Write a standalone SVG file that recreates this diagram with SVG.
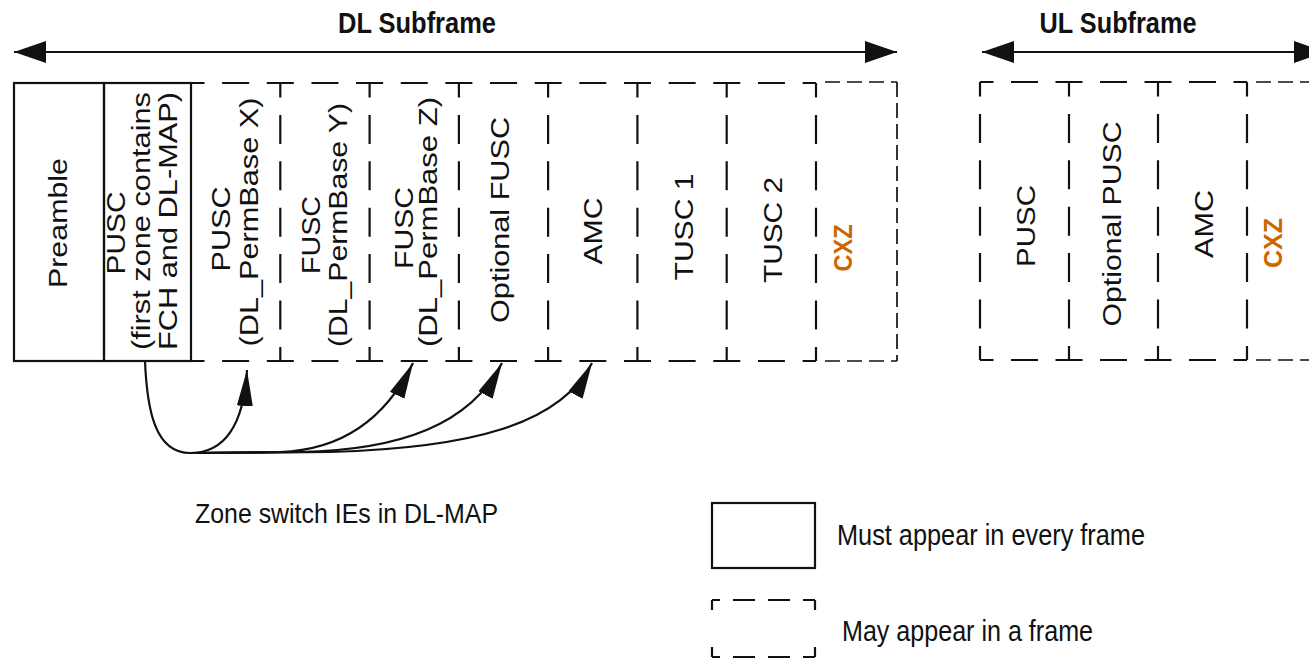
<svg xmlns="http://www.w3.org/2000/svg" width="1309" height="660" viewBox="0 0 1309 660">
<style>
  text { font-family: "Liberation Sans", Arial, sans-serif; fill: #111; }
  .r { font-size: 26px; text-anchor: middle; }
  .h { font-size: 29px; }
  .b { font-weight: bold; }
  .cxz { font-weight: bold; font-size: 25px; fill: #CC6600; text-anchor: middle; }
  .solid { fill: none; stroke: #111; stroke-width: 2.2; }
  .dh { fill: none; stroke: #111; stroke-width: 2.2; stroke-dasharray: 27 17.65; stroke-dashoffset: 13.5; }
  .dhu { fill: none; stroke: #111; stroke-width: 2.2; stroke-dasharray: 27 17.5; stroke-dashoffset: 13.5; }
  .dv { fill: none; stroke: #111; stroke-width: 2.2; stroke-dasharray: 29 17.4; stroke-dashoffset: 14.5; }
  .fine { fill: none; stroke: #111; stroke-width: 1.7; stroke-dasharray: 15 7; stroke-dashoffset: 15; }
  .finev { fill: none; stroke: #111; stroke-width: 1.7; stroke-dasharray: 15 6; }
  .lgh { fill: none; stroke: #111; stroke-width: 2.2; stroke-dasharray: 22 13; stroke-dashoffset: 14; }
  .lgv { fill: none; stroke: #111; stroke-width: 2.2; stroke-dasharray: 20 37; stroke-dashoffset: 10; }
  .conn { fill: none; stroke: #111; stroke-width: 2.2; }
</style>
<defs>
  <marker id="big" viewBox="0 0 32 24" refX="32" refY="12" markerWidth="32" markerHeight="24" markerUnits="userSpaceOnUse" orient="auto-start-reverse">
    <path d="M0,1 L32,12 L0,23 Z" fill="#111"/>
  </marker>
  <marker id="sm" viewBox="0 0 36 18" refX="36" refY="9" markerWidth="36" markerHeight="18" markerUnits="userSpaceOnUse" orient="auto">
    <path d="M0,1 L36,9 L0,17 Z" fill="#111"/>
  </marker>
</defs>
<rect width="1309" height="660" fill="#ffffff"/>

<!-- Subframe span arrows -->
<g id="dl-span">
  <line x1="14" y1="52" x2="897" y2="52" class="conn" marker-start="url(#big)" marker-end="url(#big)"/>
  <text class="h b" x="417" y="33" text-anchor="middle" textLength="158" lengthAdjust="spacingAndGlyphs">DL Subframe</text>
</g>
<g id="ul-span">
  <line x1="982" y1="52" x2="1326" y2="52" class="conn" marker-start="url(#big)" marker-end="url(#big)"/>
  <text class="h b" x="1118" y="33" text-anchor="middle" textLength="157" lengthAdjust="spacingAndGlyphs">UL Subframe</text>
</g>

<!-- DL zones -->
<g id="preamble">
  <rect x="14" y="83" width="90" height="278" class="solid"/>
  <text class="r" transform="translate(67,223) rotate(-90)" textLength="130" lengthAdjust="spacingAndGlyphs">Preamble</text>
</g>
<g id="pusc-first">
  <rect x="104" y="83" width="87" height="278" class="solid"/>
  <text class="r" transform="translate(125,233) rotate(-90)" textLength="83" lengthAdjust="spacingAndGlyphs">PUSC</text>
  <text class="r" transform="translate(150,221) rotate(-90)" textLength="258" lengthAdjust="spacingAndGlyphs">(first zone contains</text>
  <text class="r" transform="translate(177,221) rotate(-90)" textLength="258" lengthAdjust="spacingAndGlyphs">FCH and DL-MAP)</text>
</g>
<g id="dl-grid">
  <line x1="191" y1="83" x2="816" y2="83" class="dh"/>
  <line x1="191" y1="361" x2="816" y2="361" class="dh"/>
  <line x1="280.3" y1="83" x2="280.3" y2="361" class="dv"/>
  <line x1="369.6" y1="83" x2="369.6" y2="361" class="dv"/>
  <line x1="458.9" y1="83" x2="458.9" y2="361" class="dv"/>
  <line x1="548.1" y1="83" x2="548.1" y2="361" class="dv"/>
  <line x1="637.4" y1="83" x2="637.4" y2="361" class="dv"/>
  <line x1="726.7" y1="83" x2="726.7" y2="361" class="dv"/>
  <line x1="816" y1="83" x2="816" y2="361" class="dv"/>
</g>
<g id="pusc-x">
  <text class="r" transform="translate(230,229) rotate(-90)" textLength="85" lengthAdjust="spacingAndGlyphs">PUSC</text>
  <text class="r" transform="translate(258,222) rotate(-90)" textLength="249" lengthAdjust="spacingAndGlyphs">(DL_PermBase X)</text>
</g>
<g id="fusc-y">
  <text class="r" transform="translate(320,235) rotate(-90)" textLength="78" lengthAdjust="spacingAndGlyphs">FUSC</text>
  <text class="r" transform="translate(347,225) rotate(-90)" textLength="244" lengthAdjust="spacingAndGlyphs">(DL_PermBase Y)</text>
</g>
<g id="fusc-z">
  <text class="r" transform="translate(413,228) rotate(-90)" textLength="82" lengthAdjust="spacingAndGlyphs">FUSC</text>
  <text class="r" transform="translate(437,222) rotate(-90)" textLength="250" lengthAdjust="spacingAndGlyphs">(DL_PermBase Z)</text>
</g>
<g id="opt-fusc">
  <text class="r" transform="translate(509,220) rotate(-90)" textLength="206" lengthAdjust="spacingAndGlyphs">Optional FUSC</text>
</g>
<g id="dl-amc">
  <text class="r" transform="translate(602,231) rotate(-90)" textLength="67" lengthAdjust="spacingAndGlyphs">AMC</text>
</g>
<g id="tusc1">
  <text class="r" transform="translate(693,227) rotate(-90)" textLength="107" lengthAdjust="spacingAndGlyphs">TUSC 1</text>
</g>
<g id="tusc2">
  <text class="r" transform="translate(782,230) rotate(-90)" textLength="106" lengthAdjust="spacingAndGlyphs">TUSC 2</text>
</g>
<g id="dl-cxz">
  <line x1="818" y1="82" x2="897" y2="82" class="fine"/>
  <line x1="897" y1="82" x2="897" y2="361" class="finev"/>
  <line x1="818" y1="361" x2="897" y2="361" class="fine"/>
  <text class="cxz" transform="translate(852,248) rotate(-90)" textLength="47" lengthAdjust="spacingAndGlyphs">CXZ</text>
</g>

<!-- UL zones -->
<g id="ul-grid">
  <line x1="980" y1="82" x2="1247" y2="82" class="dhu"/>
  <line x1="980" y1="360" x2="1247" y2="360" class="dhu"/>
  <line x1="980" y1="82" x2="980" y2="360" class="dv"/>
  <line x1="1069" y1="82" x2="1069" y2="360" class="dv"/>
  <line x1="1158" y1="82" x2="1158" y2="360" class="dv"/>
  <line x1="1247" y1="82" x2="1247" y2="360" class="dv"/>
</g>
<g id="ul-pusc">
  <text class="r" transform="translate(1035,226) rotate(-90)" textLength="82" lengthAdjust="spacingAndGlyphs">PUSC</text>
</g>
<g id="ul-opt-pusc">
  <text class="r" transform="translate(1121,224) rotate(-90)" textLength="205" lengthAdjust="spacingAndGlyphs">Optional PUSC</text>
</g>
<g id="ul-amc">
  <text class="r" transform="translate(1213,224) rotate(-90)" textLength="68" lengthAdjust="spacingAndGlyphs">AMC</text>
</g>
<g id="ul-cxz">
  <line x1="1249" y1="82" x2="1320" y2="82" class="fine"/>
  <line x1="1249" y1="360" x2="1320" y2="360" class="fine"/>
  <text class="cxz" transform="translate(1282,243) rotate(-90)" textLength="50" lengthAdjust="spacingAndGlyphs">CXZ</text>
</g>

<!-- Zone switch connectors -->
<g id="connectors">
  <path d="M145,361 C147,410 155,453 190,453" class="conn"/>
  <path d="M190,453 C228,453 244,420 247,370" class="conn" marker-end="url(#sm)"/>
  <path d="M190,453 L280,452 C340,450 385,420 413,363" class="conn" marker-end="url(#sm)"/>
  <path d="M190,453 L300,452 C400,450 470,425 502,363" class="conn" marker-end="url(#sm)"/>
  <path d="M190,453 L330,452 C470,448 560,425 592,363" class="conn" marker-end="url(#sm)"/>
</g>
<g id="zone-label">
  <text x="195" y="523" font-size="28" textLength="303" lengthAdjust="spacingAndGlyphs">Zone switch IEs in DL-MAP</text>
</g>

<!-- Legend -->
<g id="legend-must">
  <rect x="712" y="503" width="103" height="65" class="solid"/>
  <text class="h" x="837" y="545" textLength="308" lengthAdjust="spacingAndGlyphs">Must appear in every frame</text>
</g>
<g id="legend-may">
  <line x1="712" y1="600" x2="815" y2="600" class="lgh"/>
  <line x1="712" y1="657" x2="815" y2="657" class="lgh"/>
  <line x1="712" y1="600" x2="712" y2="657" class="lgv"/>
  <line x1="815" y1="600" x2="815" y2="657" class="lgv"/>
  <text class="h" x="842" y="641" textLength="251" lengthAdjust="spacingAndGlyphs">May appear in a frame</text>
</g>
</svg>
